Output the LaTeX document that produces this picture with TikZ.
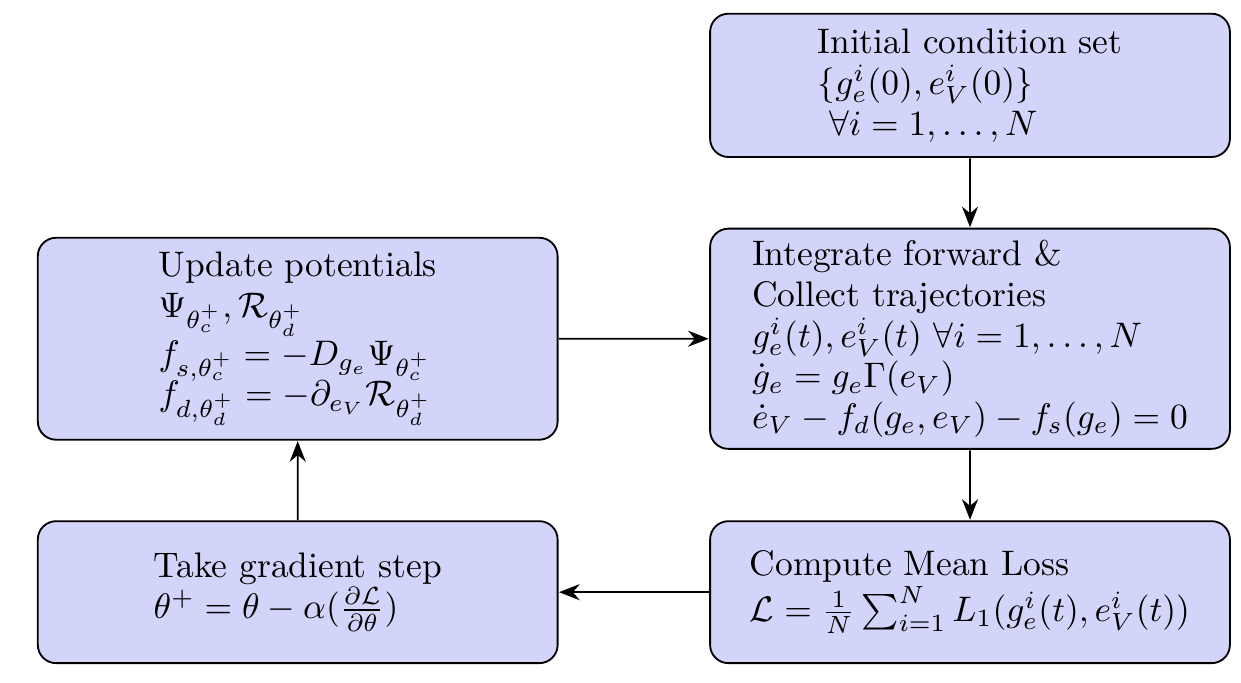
\documentclass[tikz,border=0pt]{standalone}
\usepackage{amsmath,amssymb}
\usetikzlibrary{arrows.meta}

\definecolor{boxfill}{RGB}{211,212,250}

\tikzset{
    stepbox/.style={draw, thick, rounded corners=8pt, fill=boxfill, align=left,
	font=\fontsize{10}{11.5}\selectfont,
	scale=1.55, transform shape, minimum width=5.148cm, inner sep=2.6pt},
    flow/.style={-{Stealth[length=9pt,width=7pt]}, thick}
}

\begin{document}
\begin{tikzpicture}
    \useasboundingbox (0,0) rectangle (19.05,-10.48);
    % right column
    \node[stepbox, minimum height=1.419cm] (init) at (14.89,-1.31)
	{Initial condition set\\ $\{g_e^i(0), e_V^i(0)\}$\\ $\ \forall i = 1,\ldots,N$};
    \node[stepbox, minimum height=2.181cm] (integ) at (14.89,-5.20)
	{Integrate forward \&\\ Collect trajectories\\
	$g_e^i(t), e_V^i(t)\ \forall i = 1,\ldots,N$\\
	$\dot{g}_e = g_e\Gamma(e_V)$\\
	$\dot{e}_V - f_d(g_e,e_V) - f_s(g_e) = 0$};
    \node[stepbox, minimum height=1.406cm] (loss) at (14.89,-9.09)
	{Compute Mean Loss\\ $\mathcal{L} = \frac{1}{N}\sum_{i=1}^N L_1(g_e^i(t), e_V^i(t))$};
    % left column
    \node[stepbox, minimum height=2.0cm] (update) at (4.57,-5.20)
	{Update potentials\\ $\Psi_{\theta_c^+}, \mathcal{R}_{\theta_d^+}$\\
	$f_{s,\theta_c^+} = -D_{g_e}\Psi_{\theta_c^+}$\\
	$f_{d,\theta_d^+} = -\partial_{e_V}\mathcal{R}_{\theta_d^+}$};
    \node[stepbox, minimum height=1.406cm] (grad) at (4.57,-9.09)
	{Take gradient step\\ $\theta^+ = \theta - \alpha(\frac{\partial\mathcal{L}}{\partial\theta})$};

    \draw[flow] (init) -- (integ);
    \draw[flow] (integ) -- (loss);
    \draw[flow] (loss) -- (grad);
    \draw[flow] (grad) -- (update);
    \draw[flow] (update) -- (integ);
\end{tikzpicture}
\end{document}
